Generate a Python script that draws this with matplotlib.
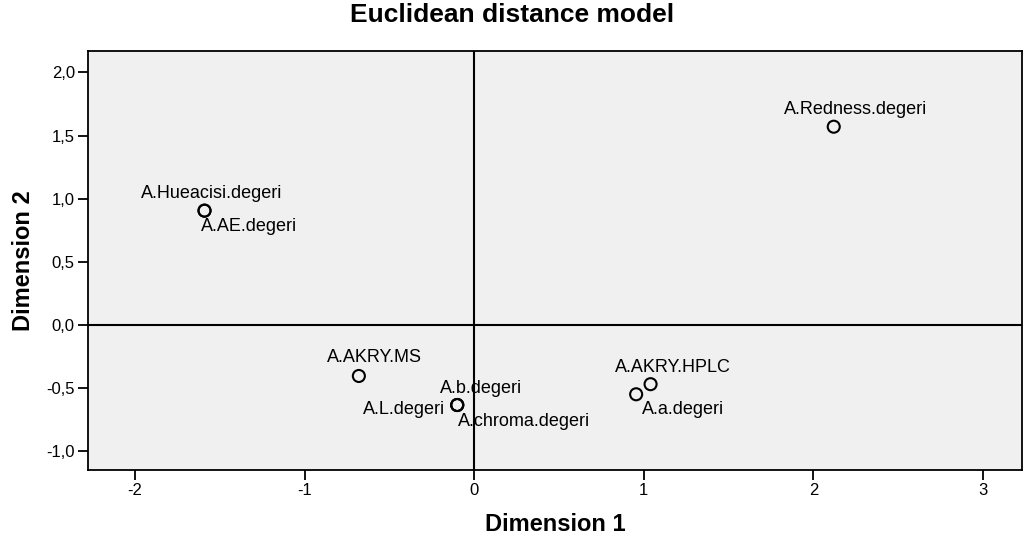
import matplotlib
matplotlib.use("Agg")
import matplotlib.pyplot as plt
from matplotlib.ticker import FixedLocator, FuncFormatter

plt.rcParams['font.family'] = ['Liberation Sans', 'DejaVu Sans']

labels = ["A.Redness.degeri", "A.Hueacisi.degeri", "A.AE.degeri", "A.AKRY.MS",
          "A.b.degeri", "A.L.degeri", "A.chroma.degeri", "A.AKRY.HPLC", "A.a.degeri"]
dim1 = [2.12, -1.59, -1.59, -0.68, -0.10, -0.10, -0.10, 1.04, 0.955]
dim2 = [1.57, 0.905, 0.905, -0.405, -0.635, -0.635, -0.635, -0.47, -0.55]

x_ticks = [-2, -1, 0, 1, 2, 3]
y_ticks = [-1.0, -0.5, 0.0, 0.5, 1.0, 1.5, 2.0]

# label offsets in pixels (dx right, dy down)
offsets = [(22, -17), (7, -17), (45, 16), (16, -18), (24, -17), (-53, 4), (67, 16), (22, -17), (47, 15)]

fig = plt.figure(figsize=(10.24, 5.42), dpi=100)
ax = fig.add_axes([88/1024, (542-470)/542, (1022-88)/1024, (470-51)/542])
ax.set_facecolor('#F0F0F0')

ax.axhline(0, color='black', lw=1.5, zorder=1)
ax.axvline(0, color='black', lw=1.5, zorder=1)

ax.scatter(dim1, dim2, s=75, facecolors='none', edgecolors='black', linewidths=1.5, zorder=3)

for lab, x, y, (dx, dy) in zip(labels, dim1, dim2, offsets):
    ax.annotate(lab, (x, y), xytext=(dx * 0.72, -dy * 0.72), textcoords='offset points',
                ha='center', va='center', fontsize=13, color='black')

ax.set_xlim(-2.277, 3.23)
ax.set_ylim(-1.15, 2.17)
ax.xaxis.set_major_locator(FixedLocator(x_ticks))
ax.yaxis.set_major_locator(FixedLocator(y_ticks))
ax.xaxis.set_major_formatter(FuncFormatter(lambda v, p: f"{int(v)}"))
ax.yaxis.set_major_formatter(FuncFormatter(lambda v, p: f"{v:.1f}".replace('.', ',')))
ax.tick_params(direction='out', length=7.5, width=1.3, labelsize=12, colors='black', pad=2)
for s in ax.spines.values():
    s.set_linewidth(1.3)
    s.set_color('black')

ax.set_xlabel('Dimension 1', fontsize=17, fontweight='bold', labelpad=11)
ax.set_ylabel('Dimension 2', fontsize=17, fontweight='bold', labelpad=8)
fig.text(0.5, 1 - 22/542, 'Euclidean distance model', ha='center', va='baseline',
         fontsize=19, fontweight='bold')

fig.savefig('out.png', dpi=100, facecolor='white')
